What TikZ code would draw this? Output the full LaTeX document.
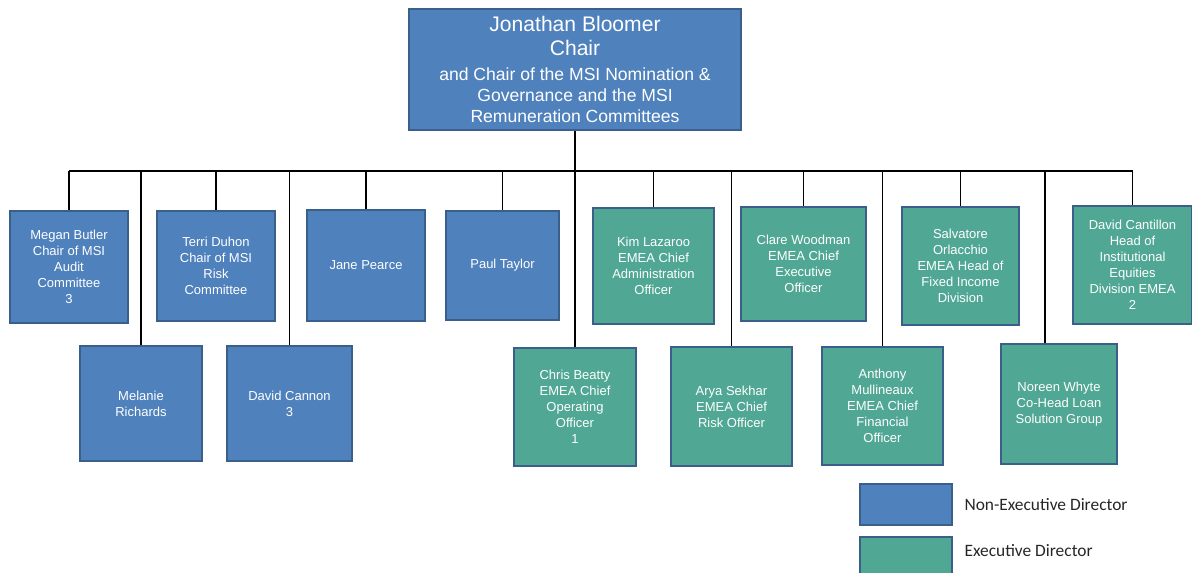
\documentclass[tikz,border=0pt]{standalone}
\usepackage{fontspec}
\setmainfont{Liberation Sans}
\newfontfamily\legendfont{Carlito}
\usetikzlibrary{positioning}
\definecolor{nedblue}{HTML}{4F81BD}
\definecolor{exdgreen}{HTML}{50A794}
\definecolor{boxline}{HTML}{3A5F8B}
\newcommand\chairsub{\fontsize{10}{12}\selectfont}

\begin{document}
\begin{tikzpicture}[x=0.02cm,y=-0.02cm,
  box/.style={rectangle,draw=boxline,line width=1.5pt,align=center,text=white,inner sep=1pt,font=\fontsize{7.4}{9.1}\selectfont},
  ned/.style={box,fill=nedblue},
  exd/.style={box,fill=exdgreen},
  link/.style={draw=black,line width=0.75pt}]
\useasboundingbox (0,0) rectangle (1192,573);

% chair
\node[ned,minimum width=6.64cm,minimum height=2.42cm,font=\fontsize{12}{14.2}\selectfont] (chair) at (575,69.5)
  {Jonathan Bloomer\\[-0.3pt] Chair\\
   \chairsub and Chair of the MSI Nomination \&\\[-2.2pt] \chairsub Governance and the MSI\\[-2.2pt] \chairsub Remuneration Committees};

% first row
\node[ned,minimum width=2.36cm,minimum height=2.24cm] (butler) at (69,267) {Megan Butler\\ Chair of MSI\\ Audit\\ Committee\\ 3};
\node[ned,minimum width=2.36cm,minimum height=2.2cm] (duhon) at (216,266) {Terri Duhon\\ Chair of MSI\\ Risk\\ Committee};
\node[ned,minimum width=2.36cm,minimum height=2.22cm] (pearce) at (366,265.5) {Jane Pearce};
\node[ned,minimum width=2.26cm,minimum height=2.18cm] (taylor) at (502.5,265.5) {Paul Taylor};
\node[exd,minimum width=2.42cm,minimum height=2.32cm] (lazaroo) at (653.5,266) {Kim Lazaroo\\ EMEA Chief\\ Administration\\ Officer};
\node[exd,minimum width=2.5cm,minimum height=2.28cm] (woodman) at (803.5,264) {Clare Woodman\\ EMEA Chief\\ Executive\\ Officer};
\node[exd,minimum width=2.34cm,minimum height=2.36cm] (orlacchio) at (960.5,266) {Salvatore\\ Orlacchio\\ EMEA Head of\\ Fixed Income\\ Division};
\node[exd,minimum width=2.38cm,minimum height=2.36cm] (cantillon) at (1132.5,265) {David Cantillon\\ Head of\\ Institutional\\ Equities\\ Division EMEA\\ 2};

% second row
\node[ned,minimum width=2.44cm,minimum height=2.3cm] (richards) at (141,403.5) {Melanie\\ Richards};
\node[ned,minimum width=2.5cm,minimum height=2.3cm] (cannon) at (289.5,403.5) {David Cannon\\ 3};
\node[exd,minimum width=2.44cm,minimum height=2.36cm] (beatty) at (575,407) {Chris Beatty\\ EMEA Chief\\ Operating\\ Officer\\ 1};
\node[exd,minimum width=2.42cm,minimum height=2.38cm] (sekhar) at (731.5,406.5) {Arya Sekhar\\ EMEA Chief\\ Risk Officer};
\node[exd,minimum width=2.42cm,minimum height=2.36cm] (mullineaux) at (882.5,406) {Anthony\\ Mullineaux\\ EMEA Chief\\ Financial\\ Officer};
\node[exd,minimum width=2.32cm,minimum height=2.4cm] (whyte) at (1059,404) {Noreen Whyte\\ Co-Head Loan\\ Solution Group};

% connectors
\coordinate (bus) at (575,171);
\draw[link] (chair.south) -- (beatty.north);
\draw[link] (butler.north |- bus) -- (cantillon.north |- bus);
\foreach \n in {butler,duhon,pearce,taylor,lazaroo,woodman,orlacchio,cantillon,richards,cannon,sekhar,mullineaux}
  \draw[link] (\n.north |- bus) -- (\n.north);
\draw[link] ([xshift=-0.28cm]whyte.north |- bus) -- ([xshift=-0.28cm]whyte.north);

% legend
\node[ned,minimum width=1.84cm,minimum height=0.82cm] (keyned) at (906,504.5) {};
\node[exd,minimum width=1.84cm,minimum height=0.86cm] (keyexd) at (906,558.5) {};
\node[anchor=west,font=\legendfont\fontsize{9.9}{12}\selectfont,text=black!85] (keynedtxt) at (keyned.east) [xshift=0.1cm] {Non-Executive Director};
\node[anchor=west,font=\legendfont\fontsize{9.9}{12}\selectfont,text=black!85] (keyexdtxt) at (keyexd.east |- 0,551) [xshift=0.1cm] {Executive Director};

\end{tikzpicture}
\end{document}
